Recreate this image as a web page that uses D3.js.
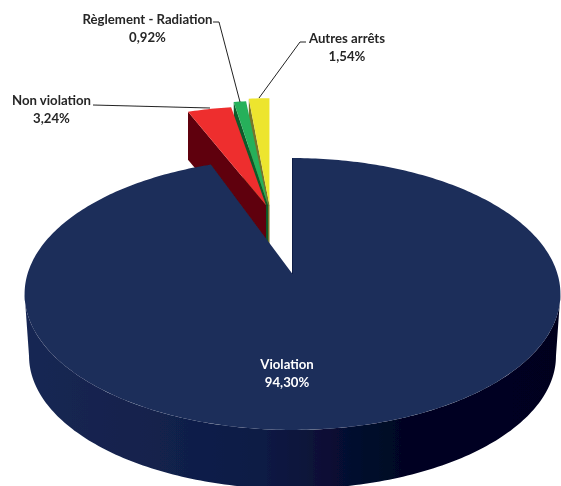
<!DOCTYPE html>
<html>
<head>
<meta charset="utf-8">
<script src="https://cdn.jsdelivr.net/npm/d3@7"></script>
<style>
  html, body { margin: 0; padding: 0; background: #fff; }
  text { font-family: Lato, "Open Sans", sans-serif; font-weight: 700; font-size: 13.2px; }
</style>
</head>
<body>
<script>
    // data
    var categories = ['Violation', 'Non violation', 'Règlement - Radiation', 'Autres arrêts'];
    var shares = [94.30, 3.24, 0.92, 1.54];

    // colours per category
    var topColors = ['#1c2d5a', '#ee2d2d', '#25b05a', '#ede52e'];
    var wallColors = ['#0f1c45', '#5e0508', '#0b5b2a', '#77752c'];

    var width = 561, height = 486;

    // the 3D look: the disc is projected with a bit of perspective, the centre sits above the ellipse middle
    var k = 0.1471;
    var topPlane = {cx: 292.5, cy: 274, a: 265, b: 133};
    var bottomPlane = {cx: 292.5, cy: 336.4, a: 260.6, b: 130.1};
    var wallDrop = 48;

    function project(plane, wx, wz) {
        var w = 1 + k * wz;
        return [plane.cx + plane.a * wx / w, plane.cy - plane.b * wz / w];
    }

    // how far each pulled out slice moves (in disc radius units): rim and tip
    var pulled = {
        'Non violation': {rim: [-0.130, 0.550], tip: [-0.108, 0.560]},
        'Règlement - Radiation': {rim: [-0.120, 0.610], tip: [-0.100, 0.560]},
        'Autres arrêts': {rim: [-0.108, 0.640], tip: [-0.094, 0.560]}
    };

    var svg = d3.select('body').append('svg')
        .attr('width', width)
        .attr('height', height)
        .style('display', 'block');

    var defs = svg.append('defs');

    // the source picture is a little soft
    defs.append('filter')
        .attr('id', 'soft')
        .attr('filterUnits', 'userSpaceOnUse')
        .attr('x', 0).attr('y', 0).attr('width', width).attr('height', height)
        .append('feGaussianBlur')
        .attr('stdDeviation', 0.4);

    var chart = svg.append('g').attr('filter', 'url(#soft)');

    var pie = d3.pie().sort(null).value(function (d) { return d; });
    var slices = pie(shares);

    // side of the big slice, darkens from left to right
    var sideGradient = defs.append('linearGradient')
        .attr('id', 'side')
        .attr('gradientUnits', 'userSpaceOnUse')
        .attr('x1', 24).attr('x2', 561).attr('y1', 0).attr('y2', 0);
    [[0, '#172753'], [0.25, '#12214c'], [0.45, '#0e1a44'], [0.6, '#060c30'], [0.72, '#020522'], [1, '#01021f']]
        .forEach(function (s) {
            sideGradient.append('stop').attr('offset', s[0]).attr('stop-color', s[1]);
        });

    var line = d3.line();

    function rimPoints(plane, a0, a1, off) {
        var steps = Math.max(2, Math.ceil(Math.abs(a1 - a0) * 60));
        return d3.range(steps + 1).map(function (i) {
            var a = a0 + (a1 - a0) * i / steps;
            return project(plane, off[0] + Math.sin(a), off[1] + Math.cos(a));
        });
    }

    // small slices first, so the big one can cover them
    var order = [3, 2, 1];
    order.forEach(function (i) {
        var s = slices[i];
        var p = pulled[categories[i]];
        var rim = rimPoints(topPlane, s.startAngle, s.endAngle, p.rim);
        var tip = project(topPlane, p.tip[0], p.tip[1]);

        // cut face on the left side of the slice
        var corner = rim[0];
        chart.append('path')
            .attr('d', line([corner, tip, [tip[0], tip[1] + wallDrop], [corner[0], corner[1] + wallDrop]]) + 'Z')
            .attr('fill', wallColors[i]);

        chart.append('path')
            .attr('d', line(rim.concat([tip])) + 'Z')
            .attr('fill', topColors[i]);
    });

    // side of the big slice
    var leftA = Math.PI * 2 - Math.acos(-k);
    var rightA = Math.acos(-k);
    var sideTop = rimPoints(topPlane, rightA, leftA, [0, 0]);
    var sideBottom = rimPoints(bottomPlane, leftA, rightA, [0, 0]);
    chart.append('path')
        .attr('d', line(sideTop.concat(sideBottom)) + 'Z')
        .attr('fill', 'url(#side)');

    // top of the big slice
    var main = slices[0];
    var centre = project(topPlane, 0, 0);
    chart.append('path')
        .attr('d', line(rimPoints(topPlane, main.startAngle, main.endAngle, [0, 0]).concat([centre])) + 'Z')
        .attr('fill', topColors[0]);
    chart.append('path')
        .attr('d', line([project(topPlane, 0, 1), centre]))
        .attr('fill', 'none')
        .attr('stroke', wallColors[0])
        .attr('stroke-width', 1);

    // labels, with a comma as decimal mark
    var fr = d3.formatLocale({decimal: ',', thousands: ' ', grouping: [3], currency: ['', ' €']});
    var fmt = fr.format('.2f');
    var labelX = [287, 51.5, 147.5, 347];
    var labelY = [369, 105, 24, 43];
    var labelColors = ['#ffffff', '#262626', '#262626', '#262626'];
    categories.forEach(function (c, i) {
        var t = chart.append('text')
            .attr('text-anchor', 'middle')
            .attr('fill', labelColors[i]);
        t.append('tspan').attr('x', labelX[i]).attr('y', labelY[i]).text(c);
        t.append('tspan').attr('x', labelX[i]).attr('y', labelY[i] + 17.5).text(fmt(shares[i]) + '%');
    });

    // leader lines
    var leaders = [
        [[93, 105], [210, 108]],
        [[213, 22], [219, 22], [240, 102]],
        [[306, 42], [300, 42], [259, 98]]
    ];
    leaders.forEach(function (l) {
        chart.append('path')
            .attr('d', line(l))
            .attr('fill', 'none')
            .attr('stroke', '#222')
            .attr('stroke-width', 1);
    });
</script>
</body>
</html>
